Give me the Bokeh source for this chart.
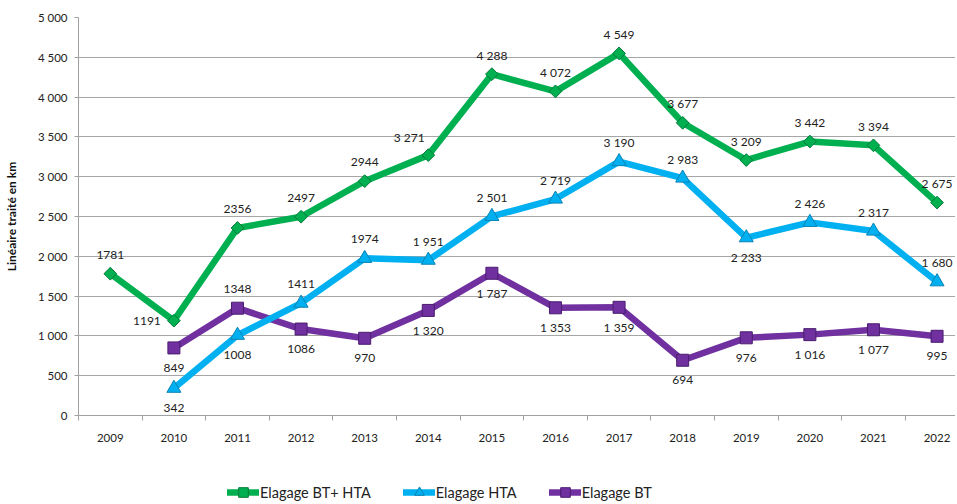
import math
from bokeh.plotting import figure
from bokeh.layouts import column
from bokeh.models import Range1d, FixedTicker, Legend, LegendItem, ColumnDataSource
from bokeh.embed import file_html
from bokeh.resources import INLINE
from bokeh.core.properties import value

# ---------------- data ----------------
years = ["2009", "2010", "2011", "2012", "2013", "2014", "2015",
         "2016", "2017", "2018", "2019", "2020", "2021", "2022"]

bt_hta = [1781, 1191, 2356, 2497, 2944, 3271, 4288, 4072, 4549, 3677, 3209, 3442, 3394, 2675]
bt_hta_labels = ["1781", "1191", "2356", "2497", "2944", "3 271", "4 288", "4 072",
                 "4 549", "3 677", "3 209", "3 442", "3 394", "2 675"]

hta_years = years[1:]
hta = [342, 1008, 1411, 1974, 1951, 2501, 2719, 3190, 2983, 2233, 2426, 2317, 1680]
hta_labels = ["342", "1008", "1411", "1974", "1 951", "2 501", "2 719", "3 190",
              "2 983", "2 233", "2 426", "2 317", "1 680"]

bt_years = years[1:]
bt = [849, 1348, 1086, 970, 1320, 1787, 1353, 1359, 694, 976, 1016, 1077, 995]
bt_labels = ["849", "1348", "1086", "970", "1 320", "1 787", "1 353", "1 359",
             "694", "976", "1 016", "1 077", "995"]

y_ticks = [0, 500, 1000, 1500, 2000, 2500, 3000, 3500, 4000, 4500, 5000]
y_tick_labels = ["0", "500", "1 000", "1 500", "2 000", "2 500", "3 000",
                 "3 500", "4 000", "4 500", "5 000"]

series_names = ["Elagage BT+ HTA", "Elagage HTA", "Elagage BT"]
y_title = "Linéaire traité en km"

# label placement codes (a=above, b=below, l=left, al=above-left)
bt_hta_place = ["a", "l", "a", "a", "a", "al", "a", "a", "a", "a", "a", "a", "a", "a"]
hta_place = ["b", "b", "a", "a", "a", "a", "a", "a", "a", "b", "a", "a", "a"]
bt_place = ["b", "a", "b", "b", "b", "b", "b", "b", "b", "b", "b", "b", "b"]

OFFS = {"a": (0, -19), "b": (0, 20), "l": (-27, 0), "al": (-19, -18)}

FONT = "Lato"
GREEN, GREEN_D = "#00b050", "#007a38"
BLUE, BLUE_D = "#00b0f0", "#0a84b5"
PURPLE, PURPLE_D = "#7030a0", "#4a1d6e"
STYLES = [(GREEN, GREEN_D, "square", 9, math.pi / 4),
          (BLUE, BLUE_D, "triangle", 14, 0.0),
          (PURPLE, PURPLE_D, "square", 12, 0.0)]

idx = {y: i for i, y in enumerate(years)}

p = figure(width=955, height=450, output_backend="svg", toolbar_location=None,
           x_range=Range1d(-0.5, 13.29), y_range=Range1d(0, 5000),
           min_border_left=78, min_border_right=0, min_border_top=17,
           min_border_bottom=35)
p.outline_line_color = None
p.background_fill_color = "white"

# axes
p.xaxis.ticker = FixedTicker(ticks=list(range(len(years))),
                             minor_ticks=[i - 0.5 for i in range(len(years) + 1)])
p.xaxis.major_label_overrides = {i: y for i, y in enumerate(years)}
p.xaxis.major_tick_line_color = None
p.xaxis.major_tick_out = 0
p.xaxis.major_tick_in = 0
p.xaxis.minor_tick_line_color = "#a0a0a0"
p.xaxis.minor_tick_out = 5
p.xaxis.minor_tick_in = 0
p.xaxis.major_label_standoff = 13
p.xaxis.axis_line_color = "#a0a0a0"
p.xaxis.major_label_text_font = FONT
p.xaxis.major_label_text_font_size = "11.5px"
p.xaxis.major_label_text_color = "#222222"

p.yaxis.ticker = FixedTicker(ticks=y_ticks)
p.yaxis.major_label_overrides = {t: l for t, l in zip(y_ticks, y_tick_labels)}
p.yaxis.major_tick_out = 4
p.yaxis.major_tick_in = 0
p.yaxis.major_tick_line_color = "#a0a0a0"
p.yaxis.minor_tick_line_color = None
p.yaxis.axis_line_color = "#a0a0a0"
p.yaxis.major_label_standoff = 7
p.yaxis.major_label_text_font = FONT
p.yaxis.major_label_text_font_size = "11.5px"
p.yaxis.major_label_text_color = "#222222"
p.yaxis.axis_label = y_title
p.yaxis.axis_label_text_font = FONT
p.yaxis.axis_label_text_font_style = "bold"
p.yaxis.axis_label_text_font_size = "12px"
p.yaxis.axis_label_text_color = "#111111"
p.yaxis.axis_label_standoff = 16

p.xgrid.grid_line_color = None
p.ygrid.ticker = FixedTicker(ticks=y_ticks)
p.ygrid.grid_line_color = "#a6a6a6"
p.ygrid.grid_line_width = 1

def add_series(fig, yrs, vals, style):
    col, dcol, marker, msize, angle = style
    xs = [idx[y] for y in yrs]
    src = ColumnDataSource(dict(x=xs, y=vals))
    ln = fig.line("x", "y", source=src, line_color=col, line_width=6.5,
                  line_join="round", line_cap="round")
    sc = fig.scatter("x", "y", source=src, marker=marker, size=msize, angle=angle,
                     fill_color=col, line_color=dcol, line_width=1)
    return ln, sc, xs

r_bt = add_series(p, bt_years, bt, STYLES[2])
r_hta = add_series(p, hta_years, hta, STYLES[1])
r_bh = add_series(p, years, bt_hta, STYLES[0])

for (ln, sc, xs), vals, labels, place in [
        (r_bh, bt_hta, bt_hta_labels, bt_hta_place),
        (r_hta, hta, hta_labels, hta_place),
        (r_bt, bt, bt_labels, bt_place)]:
    lsrc = ColumnDataSource(dict(x=xs, y=vals, t=labels,
                                 dx=[OFFS[c][0] for c in place],
                                 dy=[OFFS[c][1] for c in place]))
    p.text("x", "y", text="t", source=lsrc, x_offset="dx", y_offset="dy",
           text_align="center", text_baseline="middle",
           text_font=value(FONT), text_font_size="12px", text_color="#222222")

# ---------------- legend strip ----------------
lf = figure(width=955, height=54, output_backend="svg", toolbar_location=None,
            x_range=Range1d(0, 1), y_range=Range1d(0, 1),
            x_axis_location=None, y_axis_location=None,
            min_border_left=0, min_border_right=0, min_border_top=0,
            min_border_bottom=0)
lf.outline_line_color = None
lf.xgrid.visible = False
lf.ygrid.visible = False

items = []
for name, style in zip(series_names, STYLES):
    col, dcol, marker, msize, angle = style
    # placeholder source, outside the visible range: only the legend glyph shows
    esrc = ColumnDataSource(dict(x=[-5, -4], y=[-5, -5]))
    ln = lf.line("x", "y", source=esrc, line_color=col, line_width=6.5,
                 line_cap="round")
    sc = lf.scatter("x", "y", source=esrc, marker=marker, size=msize, angle=angle,
                    fill_color=col, line_color=dcol, line_width=1)
    items.append(LegendItem(label=name, renderers=[ln, sc]))

legend = Legend(items=items, location=(149, 0), orientation="horizontal")
legend.glyph_width = 32
legend.glyph_height = 24
legend.label_height = 24
legend.label_standoff = 1
legend.spacing = 32
legend.padding = 0
legend.margin = 0
legend.border_line_color = None
legend.background_fill_alpha = 0
legend.label_text_font = FONT
legend.label_text_font_size = "14.5px"
legend.label_text_color = "#222222"
lf.add_layout(legend)

layout = column(p, lf, spacing=0)
open("out.html", "w").write(file_html(layout, INLINE))
